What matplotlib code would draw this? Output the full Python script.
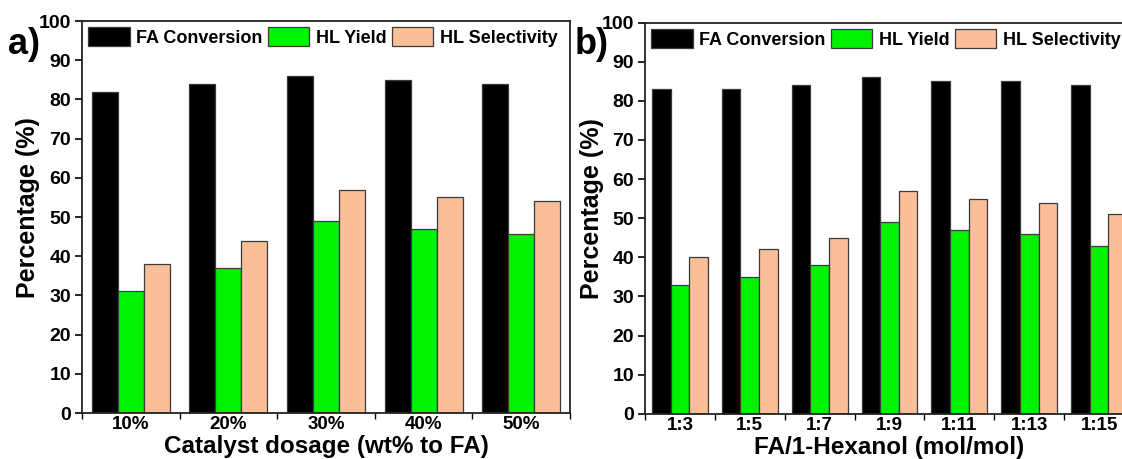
import matplotlib
matplotlib.use("Agg")
import matplotlib.pyplot as plt
import numpy as np

plt.rcParams['font.family'] = ['Liberation Sans', 'DejaVu Sans']
plt.rcParams['font.weight'] = 'bold'

# Panel a: catalyst dosage
dosage_labels = ["10%", "20%", "30%", "40%", "50%"]
dosage_conversion = [82, 84, 86, 85, 84]
dosage_yield = [31, 37, 49, 47, 45.7]
dosage_selectivity = [38, 44, 57, 55, 54]

# Panel b: FA / 1-hexanol molar ratio
ratio_labels = ["1:3", "1:5", "1:7", "1:9", "1:11", "1:13", "1:15"]
ratio_conversion = [83, 83, 84, 86, 85, 85, 84]
ratio_yield = [33, 35, 38, 49, 47, 46, 43]
ratio_selectivity = [40, 42, 45, 57, 55, 54, 51]

series_names = ["FA Conversion", "HL Yield", "HL Selectivity"]
colors = ["#000000", "#00F200", "#FABE98"]
edge = "#3a3a3a"

W, H = 1122, 459
fig = plt.figure(figsize=(W / 100, H / 100), dpi=100)

ax_a = fig.add_axes([82 / W, (H - 413) / H, 488 / W, 392 / H])
ax_b = fig.add_axes([645 / W, (H - 413.7) / H, 489 / W, 391 / H])


def draw_panel(ax, labels, conv, yld, sel, xlabel, tag, tag_x, ylab_x):
    n = len(labels)
    x = np.arange(n)
    bw = 0.267
    for i, vals in enumerate([conv, yld, sel]):
        ax.bar(x + (i - 1) * bw, vals, width=bw, color=colors[i],
               edgecolor=edge, linewidth=0.9, label=series_names[i], zorder=2)
    ax.set_xlim(-0.5, n - 0.5)
    ax.set_ylim(0, 100)
    ax.set_yticks(np.arange(0, 101, 10))
    ax.set_xticks(x)
    ax.set_xticklabels(labels)
    ax.set_xticks(np.arange(n + 1) - 0.5, minor=True)
    ax.tick_params(axis='x', which='major', length=0, pad=2.5, labelsize=13.5)
    ax.tick_params(axis='x', which='minor', length=4, width=1.0, direction='out')
    ax.tick_params(axis='y', which='major', length=5, width=1.2, direction='out',
                   labelsize=14, pad=3)
    for lbl in ax.get_xticklabels() + ax.get_yticklabels():
        lbl.set_fontweight('bold')
    for sp in ax.spines.values():
        sp.set_linewidth(1.3)
        sp.set_color("#222222")
    ax.set_xlabel(xlabel, fontsize=17.5, fontweight='bold')
    ax.xaxis.label.set_va('bottom')
    ax.xaxis.set_label_coords(0.5, -(458.5 - 413) / 392)
    ax.set_ylabel("Percentage (%)", fontsize=18, fontweight='bold')
    ax.yaxis.label.set_va('center')
    ax.yaxis.set_label_coords(ylab_x, 0.525)
    leg = ax.legend(loc='upper left', ncol=3, frameon=False, fontsize=13,
                    handlelength=2.3, handleheight=1.25, handletextpad=0.35,
                    columnspacing=0.3, borderaxespad=0.15, borderpad=0.2)
    for t in leg.get_texts():
        t.set_fontweight('bold')
    fig.text(tag_x, 1 - 45 / H, tag, fontsize=26, fontweight='bold',
             ha='left', va='center')


draw_panel(ax_a, dosage_labels, dosage_conversion, dosage_yield, dosage_selectivity,
           "Catalyst dosage (wt% to FA)", "a)", 8 / W, -0.111)
draw_panel(ax_b, ratio_labels, ratio_conversion, ratio_yield, ratio_selectivity,
           "FA/1-Hexanol (mol/mol)", "b)", 575 / W, -0.108)

fig.savefig("out.png", dpi=100, facecolor="white")
